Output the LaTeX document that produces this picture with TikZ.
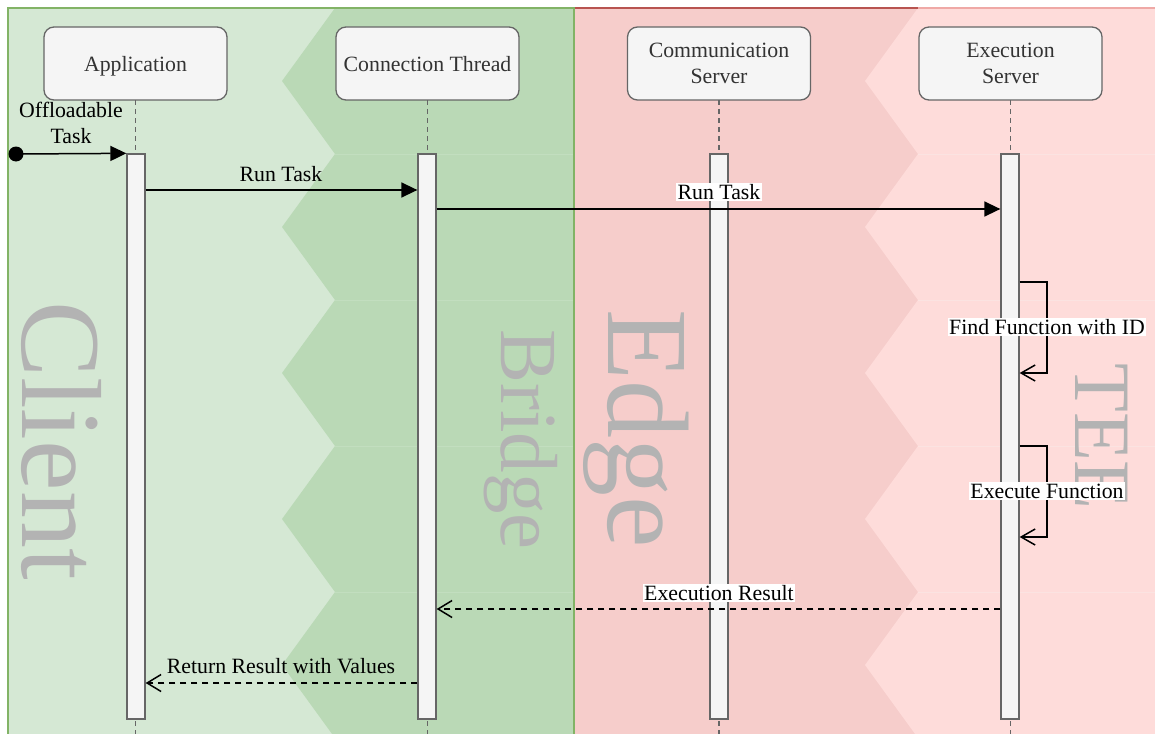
\documentclass[tikz,border=0pt]{standalone}
\usepackage{fontspec}
\setmainfont{Liberation Serif}
\usetikzlibrary{arrows.meta}

\definecolor{clientfill}{HTML}{D5E8D4}
\definecolor{clientline}{HTML}{82B366}
\definecolor{bridgefill}{HTML}{BAD9B6}
\definecolor{bridgeseam}{HTML}{C2DEBF}
\definecolor{edgefill}{HTML}{F6CDCB}
\definecolor{edgeline}{HTML}{B85450}
\definecolor{teefill}{HTML}{FEDCDA}
\definecolor{teeseam}{HTML}{FBE3E1}
\definecolor{teeline}{HTML}{EFA9A6}
\definecolor{boxfill}{HTML}{F5F5F5}
\definecolor{boxline}{HTML}{666666}
\definecolor{headtext}{HTML}{333333}
\definecolor{zonetext}{HTML}{B3B3B3}

\begin{document}
\begin{tikzpicture}[x=1pt,y=-1pt,
  every node/.style={font=\fontsize{21.8}{26.5}\selectfont},
  header/.style={draw=boxline, fill=boxfill, line width=1.3pt, rounded corners=10pt,
    minimum width=183pt, minimum height=73pt, text=headtext, align=center, inner sep=0pt},
  oneline/.style={text depth=0pt},
  activation/.style={draw=boxline, fill=boxfill, line width=1.3pt,
    minimum width=18pt, minimum height=565pt, inner sep=0pt},
  lifeline/.style={draw=boxline, line width=1.3pt, dash pattern=on 5pt off 4pt},
  msg/.style={line width=1.5pt, -{Triangle[length=16pt,width=15pt]}},
  reply/.style={line width=1.5pt, dash pattern=on 6pt off 5pt,
    -{Straight Barb[length=14pt,width=17pt,line width=1.5pt]}},
  selfmsg/.style={line width=1.5pt, -{Straight Barb[length=14pt,width=16pt,line width=1.5pt]}},
  msglabel/.style={inner sep=1.5pt},
  boxedlabel/.style={fill=white, inner sep=1.5pt},
  zone/.style={text=zonetext, rotate=-90, anchor=base west, inner sep=0pt},
]
\useasboundingbox (0,0) rectangle (1155,733);
\clip (0,0) rectangle (1155,733);

% swimlane backgrounds
\fill[clientfill] (8,8) rectangle (574,760);
\fill[bridgefill] (335,8) -- (282,81) -- (335,154) -- (282,227) -- (335,300)
  -- (282,373) -- (335,446) -- (282,519) -- (335,592) -- (282,665) -- (335,738)
  -- (282,811) -- (335,884) -- (574,884) -- (574,8) -- cycle;
\fill[edgefill] (574,8) rectangle (1170,760);
\fill[teefill] (918,8) -- (865,81) -- (918,154) -- (865,227) -- (918,300)
  -- (865,373) -- (918,446) -- (865,519) -- (918,592) -- (865,665) -- (918,738)
  -- (865,811) -- (918,884) -- (1170,884) -- (1170,8) -- cycle;
\foreach \yy in {154,300,446,592} {
  \draw[bridgeseam, line width=0.8pt] (335,\yy) -- (573,\yy);
  \draw[teeseam, line width=0.8pt] (918,\yy) -- (1170,\yy);
}
\draw[clientline, line width=1.5pt] (8,760) -- (8,8) -- (574,8) -- (574,760);
\draw[edgeline, line width=1.5pt] (575,8) -- (918,8);
\draw[teeline, line width=1.5pt] (918,8) -- (1170,8);

% zone captions
\node[zone, font=\fontsize{114}{114}\selectfont] (client) at (22,301) {Client};
\node[zone, font=\fontsize{81}{81}\selectfont] (bridge) at (501,329) {Bridge};
\node[zone, font=\fontsize{116}{116}\selectfont] (edge) at (608,309) {Edge};
\node[zone, font=\fontsize{80}{80}\selectfont] (tee) at (1075,363) {TEE};

% lifelines
\coordinate (append) at (135.5,745);
\coordinate (connend) at (427.5,745);
\coordinate (commend) at (719,745);
\coordinate (execend) at (1010.5,745);
\coordinate (apptop) at (135.5,100);
\coordinate (conntop) at (427.5,100);
\coordinate (commtop) at (719,100);
\coordinate (exectop) at (1010.5,100);
\draw[lifeline] (apptop) -- (append);
\draw[lifeline] (conntop) -- (connend);
\draw[lifeline] (commtop) -- (commend);
\draw[lifeline] (exectop) -- (execend);

% participants
\node[header, oneline] (app) at (135.5,63.5) {Application};
\node[header, oneline] (conn) at (427.5,63.5) {Connection Thread};
\node[header] (comm) at (719,63.5) {Communication\\Server};
\node[header] (exec) at (1010.5,63.5) {Execution\\Server};

% activation bars
\node[activation] (appact) at (136,436.5) {};
\node[activation] (connact) at (427,436.5) {};
\node[activation] (commact) at (719,436.5) {};
\node[activation] (execact) at (1010,436.5) {};

% messages
\node[circle, fill=black, inner sep=0pt, minimum size=15pt] (start) at (16,154) {};
\draw[msg] (start.center) -- (appact.north west);
\node[msglabel, align=center] (offl) at (71,123) {Offloadable\\Task};

\draw[msg] (appact.east |- 0,190) -- (connact.west |- 0,190);
\node[msglabel] (run1) at (281,174) {Run Task};

\draw[msg] (connact.east |- 0,209) -- (execact.west |- 0,209);
\node[boxedlabel] (run2) at (719,192) {Run Task};

\coordinate (find1) at (1047,282);
\coordinate (find2) at (1047,373);
\draw[selfmsg] (execact.east |- find1) -- (find1) -- (find2) -- (execact.east |- find2);
\node[boxedlabel] (findl) at (1047,327) {Find Function with ID};

\coordinate (run1c) at (1047,446);
\coordinate (run2c) at (1047,537);
\draw[selfmsg] (execact.east |- run1c) -- (run1c) -- (run2c) -- (execact.east |- run2c);
\node[boxedlabel] (execl) at (1047,491) {Execute Function};

\draw[reply] (execact.west |- 0,609) -- (connact.east |- 0,609);
\node[boxedlabel] (resl) at (719,593) {Execution Result};

\draw[reply] (connact.west |- 0,683) -- (appact.east |- 0,683);
\node[msglabel] (retl) at (281,666) {Return Result with Values};
\end{tikzpicture}
\end{document}
